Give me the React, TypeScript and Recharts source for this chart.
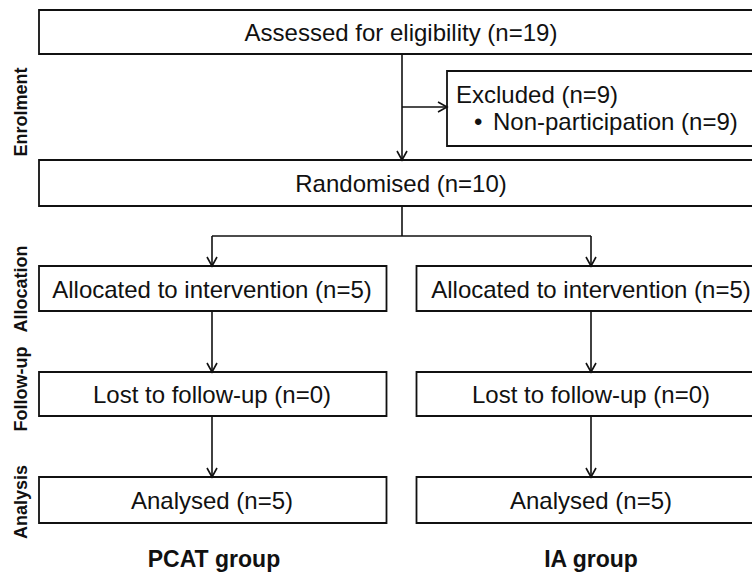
import React from 'react';
import { ComposedChart, XAxis, YAxis, Scatter, ReferenceArea, ReferenceLine } from 'recharts';

// participant counts
const assessedN = 19;
const excludedN = 9;
const nonParticipationN = 9;
const randomisedN = 10;
const groups = ['PCAT group', 'IA group'];
const allocatedN = [5, 5];
const lostN = [0, 0];
const analysedN = [5, 5];
const stages = ['Enrolment', 'Allocation', 'Follow-up', 'Analysis'];

const W = 752;
const H = 574;
const FONT = '"Liberation Sans", Arial, Helvetica, sans-serif';
const INK = '#111';

// diagram layout, in chart units (same as pixels here)
const MID = 402;
const LEFT = 39;
const RIGHT = 790; // boxes run off the right edge
const COLS = [212, 591];
const COL_EDGES = [[LEFT, 386.5], [416.5, RIGHT]];
const ROWS = {
    assessed: [10, 54],
    excluded: [71, 146],
    randomised: [160, 206],
    split: 236,
    allocation: [266, 311],
    followUp: [372, 416],
    analysis: [477, 523],
};
const STAGE_Y = [112, 289, 389, 502];
const BASE = 9; // baseline offset from box middle

const mid = (r: number[]) => (r[0] + r[1]) / 2;

const boxes: { x1: number; x2: number; y1: number; y2: number }[] = [
    { x1: LEFT, x2: RIGHT, y1: ROWS.assessed[0], y2: ROWS.assessed[1] },
    { x1: 447, x2: RIGHT, y1: ROWS.excluded[0], y2: ROWS.excluded[1] },
    { x1: LEFT, x2: RIGHT, y1: ROWS.randomised[0], y2: ROWS.randomised[1] },
];
[ROWS.allocation, ROWS.followUp, ROWS.analysis].forEach((r) =>
    COL_EDGES.forEach(([a, b]) => boxes.push({ x1: a, x2: b, y1: r[0], y2: r[1] }))
);

const arrows: { from: number[]; to: number[]; head: boolean }[] = [
    { from: [MID, ROWS.assessed[1]], to: [MID, ROWS.randomised[0]], head: true },
    { from: [MID, 107], to: [447, 107], head: true },
    { from: [MID, ROWS.randomised[1]], to: [MID, ROWS.split], head: false },
    { from: [COLS[0], ROWS.split], to: [COLS[1], ROWS.split], head: false },
];
COLS.forEach((c) => {
    arrows.push({ from: [c, ROWS.split], to: [c, ROWS.allocation[0]], head: true });
    arrows.push({ from: [c, ROWS.allocation[1]], to: [c, ROWS.followUp[0]], head: true });
    arrows.push({ from: [c, ROWS.followUp[1]], to: [c, ROWS.analysis[0]], head: true });
});

type Label = { x: number; y: number; text: string; kind: 'box' | 'left' | 'stage' | 'group' };
const labels: Label[] = [
    { x: 401, y: mid(ROWS.assessed) + BASE, text: `Assessed for eligibility (n=${assessedN})`, kind: 'box' },
    { x: 456, y: 103, text: `Excluded (n=${excludedN})`, kind: 'left' },
    { x: 474, y: 130, text: '\u2022', kind: 'left' },
    { x: 493, y: 130, text: `Non-participation (n=${nonParticipationN})`, kind: 'left' },
    { x: 401, y: mid(ROWS.randomised) + BASE, text: `Randomised (n=${randomisedN})`, kind: 'box' },
];
COLS.forEach((c, i) => {
    labels.push({ x: c, y: mid(ROWS.allocation) + BASE, text: `Allocated to intervention (n=${allocatedN[i]})`, kind: 'box' });
    labels.push({ x: c, y: mid(ROWS.followUp) + BASE, text: `Lost to follow-up (n=${lostN[i]})`, kind: 'box' });
    labels.push({ x: c, y: mid(ROWS.analysis) + BASE, text: `Analysed (n=${analysedN[i]})`, kind: 'box' });
    labels.push({ x: i === 0 ? 214 : c, y: 567, text: groups[i], kind: 'group' });
});
stages.forEach((s, i) => labels.push({ x: 27, y: STAGE_Y[i], text: s, kind: 'stage' }));

function TextMark(props: any) {
    const { cx, cy, payload } = props;
    const d = payload as Label;
    if (d.kind === 'stage') {
        return (
            <text x={cx} y={cy} textAnchor="middle" transform={`rotate(-90, ${cx}, ${cy})`}
                fontFamily={FONT} fontSize={18} fontWeight="bold" fill={INK}>
                {d.text}
            </text>
        );
    }
    if (d.kind === 'group') {
        return (
            <text x={cx} y={cy} textAnchor="middle" fontFamily={FONT} fontSize={23} fontWeight="bold" fill={INK}>
                {d.text}
            </text>
        );
    }
    return (
        <text x={cx} y={cy} textAnchor={d.kind === 'left' ? 'start' : 'middle'}
            fontFamily={FONT} fontSize={24} fill={INK}>
            {d.text}
        </text>
    );
}

function arrowShape(head: boolean) {
    return (p: any) => {
        const { x1, y1, x2, y2 } = p;
        const dx = x2 - x1;
        const dy = y2 - y1;
        const len = Math.sqrt(dx * dx + dy * dy) || 1;
        const ux = dx / len;
        const uy = dy / len;
        const bx = x2 - ux * 9;
        const by = y2 - uy * 9;
        const nx = -uy * 5;
        const ny = ux * 5;
        return (
            <g>
                <line x1={x1} y1={y1} x2={x2} y2={y2} stroke={INK} strokeWidth={1.6} />
                {head && (
                    <polyline points={`${bx + nx},${by + ny} ${x2},${y2} ${bx - nx},${by - ny}`}
                        fill="none" stroke={INK} strokeWidth={1.6} />
                )}
            </g>
        );
    };
}

export default function App() {
    return (
        <div style={{ position: 'absolute', left: 0, top: 0, width: W, height: H, background: '#fff' }}>
            <ComposedChart width={W} height={H} margin={{ top: 0, right: 0, bottom: 0, left: 0 }}>
                <XAxis type="number" dataKey="x" domain={[0, W]} hide />
                <YAxis type="number" dataKey="y" domain={[0, H]} reversed hide />
                {boxes.map((b, i) => (
                    <ReferenceArea key={`box-${i}`} x1={b.x1} x2={b.x2} y1={b.y1} y2={b.y2}
                        ifOverflow="visible" fill="#fff" fillOpacity={1} stroke={INK} strokeWidth={1.8} />
                ))}
                {arrows.map((a, i) => (
                    <ReferenceLine key={`arrow-${i}`} ifOverflow="visible"
                        segment={[{ x: a.from[0], y: a.from[1] }, { x: a.to[0], y: a.to[1] }]}
                        shape={arrowShape(a.head)} />
                ))}
                <Scatter data={labels} shape={TextMark} isAnimationActive={false} />
            </ComposedChart>
        </div>
    );
}
